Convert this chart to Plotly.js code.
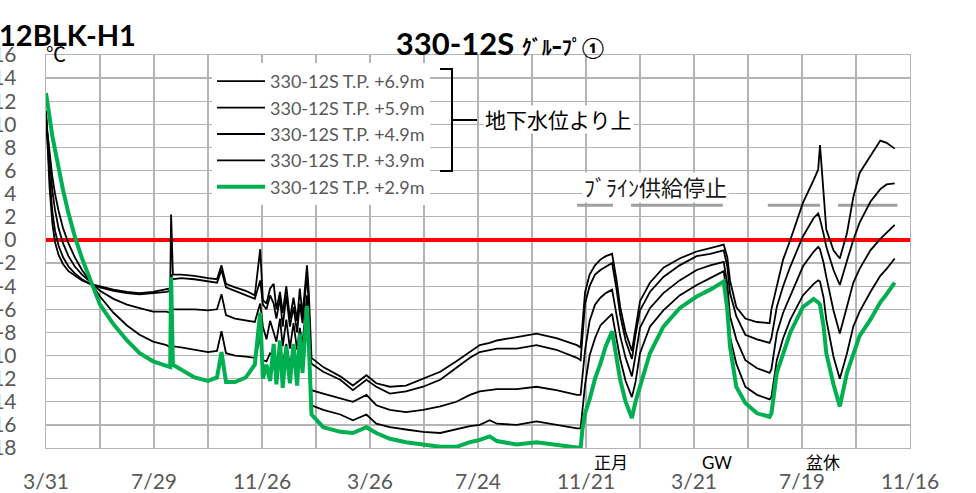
<!DOCTYPE html>
<html><head><meta charset="utf-8">
<script src="https://cdn.plot.ly/plotly-3.0.1.min.js"></script>
<style>html,body{margin:0;padding:0;background:#fff}#chart{width:976px;height:493px}</style>
</head><body><div id="chart"></div>
<script>
// ---------- DATA ----------
const startDate = '2017-03-31';
const endDate = '2019-11-16';
// days after startDate at which values were read
const dayOffsets = [
  0, 2, 4, 7, 10, 14, 19, 25, 32, 40,
  49, 60, 75, 90, 104, 119, 134, 138, 139, 141,
  150, 165, 180, 190, 195, 200, 210, 222, 232, 238,
  241, 245, 249, 253, 256, 260, 263, 267, 271, 275,
  279, 282, 285, 290, 292, 294, 295, 308, 327, 341,
  356, 367, 382, 400, 419, 438, 456, 471, 482, 493,
  501, 523, 545, 567, 590, 594, 596, 599, 604, 610,
  616, 622, 629, 634, 638, 644, 651, 655, 660, 671,
  686, 704, 723, 738, 753, 757, 760, 767, 777, 790,
  804, 806, 812, 819, 827, 841, 853, 858, 860, 864,
  867, 875, 882, 890, 897, 904, 916, 927, 934, 943
];
const seriesNames = ['330-12S T.P. +6.9m', '330-12S T.P. +5.9m', '330-12S T.P. +4.9m', '330-12S T.P. +3.9m', '330-12S T.P. +2.9m'];
const tp69 = [
  11.2, 7.5, 4.5, 1.5, -0.2, -1.3, -2.1, -2.7, -3.1, -3.5,
  -3.8, -4.0, -4.3, -4.5, -4.6, -4.5, -4.3, -4.2, 2.2, -3.0,
  -3.0, -3.1, -3.3, -3.4, -2.2, -3.8, -4.1, -4.4, -4.8, -0.8,
  -5.2, -5.5, -4.2, -3.8, -6.0, -4.5, -6.3, -4.0, -6.8, -5.0,
  -7.0, -4.2, -6.5, -2.2, -4.5, -9.5, -10.2, -11.0, -11.8, -12.6,
  -11.7, -12.4, -12.7, -12.6, -12.0, -11.4, -10.5, -9.7, -9.1, -8.9,
  -8.7, -8.4, -8.1, -8.5, -9.1, -9.3, -7.0, -4.5, -3.0, -2.2,
  -1.7, -1.4, -1.2, -3.5, -5.8, -8.0, -9.6, -7.5, -5.3, -3.7,
  -2.4, -1.6, -1.0, -0.7, -0.4, -1.5, -3.5, -5.8, -6.8, -7.1,
  -7.2, -6.0, -4.0, -1.7, 0.0, 3.2, 5.2, 6.1, 8.2, 3.5,
  0.9, -0.9, -1.6, 0.6, 3.7, 5.8, 7.2, 8.6, 8.4, 7.9
];
const tp59 = [
  11.0, 8.0, 5.5, 2.5, 0.8, -0.5, -1.5, -2.3, -2.9, -3.4,
  -3.8, -4.1, -4.4, -4.6, -4.7, -4.6, -4.5, -4.4, -3.0, -3.4,
  -3.3, -3.4, -3.6, -3.7, -2.6, -4.1, -4.4, -4.8, -5.1, -3.5,
  -5.6, -6.0, -4.8, -5.5, -6.8, -5.0, -7.5, -4.8, -7.5, -5.8,
  -8.0, -5.5, -7.2, -3.0, -5.5, -10.2, -10.7, -11.4, -12.1, -13.0,
  -12.1, -12.7, -13.3, -13.1, -12.7, -12.1, -11.1, -10.2, -9.7, -9.5,
  -9.4, -9.4, -9.1, -9.5, -10.2, -10.4, -8.5, -5.5, -4.0, -3.0,
  -2.6, -2.3, -2.0, -4.3, -6.5, -8.7, -10.3, -8.2, -6.1, -4.5,
  -3.2, -2.2, -1.4, -1.2, -0.9, -2.3, -4.6, -6.6, -8.2, -8.6,
  -8.9, -8.5, -5.8, -4.0, -2.3, 0.3, 1.9, 2.3, 1.8, 0.5,
  -0.6, -2.6, -3.9, -1.8, 0.0, 1.5, 3.3, 4.4, 4.8, 4.9
];
const tp49 = [
  10.7, 8.8, 6.8, 4.3, 2.6, 1.0, -0.3, -1.4, -2.3, -3.0,
  -3.6, -4.4, -5.1, -5.6, -5.9, -6.2, -6.2, -6.3, -5.8, -6.0,
  -6.0, -6.0, -6.1, -6.0, -4.7, -6.5, -6.8, -7.0, -7.1, -5.5,
  -7.5, -8.6, -7.0, -8.0, -8.8, -6.8, -9.2, -6.9, -9.4, -7.2,
  -9.5, -7.6, -9.0, -4.8, -7.5, -12.5, -13.0, -13.3, -13.7, -14.0,
  -13.4, -14.3, -14.7, -14.9, -14.7, -14.4, -14.0, -13.4, -13.1, -13.0,
  -12.9, -12.9, -12.7, -13.0, -13.4, -13.4, -12.0, -9.5, -7.0, -5.6,
  -5.0, -4.6, -4.3, -6.5, -8.3, -10.2, -11.8, -10.0, -7.6, -5.9,
  -4.6, -3.5, -2.6, -2.2, -1.9, -3.8, -6.6, -8.6, -10.4, -11.1,
  -11.5, -11.2, -8.1, -6.3, -4.9, -2.3, -1.0, -0.6, -0.8, -2.0,
  -3.2, -6.1, -8.1, -5.8, -3.7, -2.5, -0.9, 0.1, 0.6, 1.3
];
const tp39 = [
  10.4, 9.0, 7.5, 5.5, 4.0, 2.5, 1.0, -0.3, -1.5, -2.6,
  -3.6, -4.9, -6.3, -7.4, -8.2, -8.8, -9.1, -9.3, -9.0, -9.2,
  -9.3, -9.5, -9.7, -9.6, -7.9, -9.8, -10.0, -10.1, -10.2, -8.5,
  -10.4, -10.5, -9.8, -10.0, -10.6, -9.2, -10.8, -9.0, -10.9, -9.3,
  -10.8, -9.0, -10.3, -6.3, -9.0, -14.0, -14.3, -14.7, -15.1, -15.6,
  -15.1, -15.9, -16.2, -16.4, -16.6, -16.7, -16.4, -16.1, -16.0, -15.6,
  -15.9, -16.0, -15.7, -16.0, -16.3, -16.3, -14.5, -12.5, -10.0, -8.5,
  -7.4, -6.9, -6.4, -8.6, -10.3, -12.2, -13.6, -12.3, -9.8, -7.5,
  -6.1, -4.8, -3.9, -3.3, -2.7, -5.0, -8.4, -10.7, -12.7, -13.4,
  -13.8, -13.6, -10.4, -8.5, -6.9, -4.8, -3.8, -3.5, -3.6, -5.0,
  -6.9, -10.1, -12.0, -9.8, -7.5, -6.2, -4.5, -3.1, -2.5, -1.6
];
const tp29 = [
  12.7, 11.8, 10.6, 9.0, 7.8, 6.3, 4.3, 2.3, 0.3, -1.6,
  -3.4, -5.6, -7.3, -8.7, -9.8, -10.5, -10.9, -11.0, -3.2, -10.8,
  -11.2, -11.9, -12.2, -11.9, -9.7, -12.3, -12.3, -11.9, -10.8, -6.3,
  -12.0, -10.8, -12.2, -9.0, -12.5, -8.7, -12.8, -9.2, -12.4, -9.0,
  -12.6, -8.1, -11.5, -5.7, -9.0, -14.8, -15.1, -16.2, -16.6, -16.7,
  -16.2, -16.7, -17.2, -17.5, -17.7, -17.9, -17.9, -17.5, -17.3, -17.0,
  -17.4, -17.7, -17.5, -17.7, -17.9, -18.0, -16.4, -15.0, -13.8, -12.0,
  -10.7, -9.2, -7.9, -10.2, -12.1, -14.0, -15.4, -14.0, -12.7, -9.8,
  -7.5, -5.9, -4.9, -4.3, -3.6, -6.0, -9.2, -12.7, -14.1, -15.0,
  -15.3, -15.0, -11.5, -9.8, -8.0, -5.8, -5.1, -5.4, -5.6, -7.5,
  -9.8, -12.5, -14.4, -11.5, -9.8, -8.3, -6.9, -5.4, -4.7, -3.7
];
// brine supply stop periods (day offsets) drawn as grey bars
const brineStopStart = [590, 650, 802, 880];
const brineStopEnd = [630, 752, 860, 946];
const brineStopLevel = 3;
const freezingLevel = 0;
const yTickVals = [16, 14, 12, 10, 8, 6, 4, 2, 0, -2, -4, -6, -8, -10, -12, -14, -16, -18];
const yTickText = ['16', '14', '12', '10', '8', '6', '4', '2', '0', '-2', '-4', '-6', '-8', '-10', '-12', '-14', '-16', '-18'];

// ---------- BUILD ----------
const DAY = 86400000;
const t0 = Date.parse(startDate + 'T00:00:00Z');
const toDate = d => new Date(t0 + d * DAY).toISOString().slice(0, 10);
const xDates = dayOffsets.map(toDate);

const bx = [], by = [];
brineStopStart.forEach((s, i) => {
  bx.push(toDate(s), toDate(brineStopEnd[i]), null);
  by.push(brineStopLevel, brineStopLevel, null);
});

const seriesVals = [tp69, tp59, tp49, tp39, tp29];
const traces = [
  {x: [startDate, endDate], y: [freezingLevel, freezingLevel], mode: 'lines',
   line: {color: '#ff0000', width: 4}, showlegend: false, hoverinfo: 'skip'},
  {x: bx, y: by, mode: 'lines', line: {color: '#a0a0a0', width: 3},
   showlegend: false, hoverinfo: 'skip', connectgaps: false}
];
seriesVals.forEach((vals, i) => {
  const green = i === 4;
  traces.push({
    x: xDates, y: vals, name: seriesNames[i], mode: 'lines',
    line: {color: green ? '#00b050' : '#000000', width: green ? 4 : 1.8}
  });
});

const L = 46, R = 910, T = 55, B = 448;
const px = x => (x - L) / (R - L);
const py = y => (B - y) / (B - T);
const P = (x, y) => px(x).toFixed(4) + ',' + py(y).toFixed(4);
const grid = '#b4b4b4';
const cjk = 'Lato, "Noto Sans CJK JP", sans-serif';

const layout = {
  width: 976, height: 493,
  margin: {l: L, r: 976 - R, t: T, b: 493 - B},
  paper_bgcolor: '#ffffff', plot_bgcolor: '#ffffff',
  font: {family: cjk, color: '#595959'},
  title: {
    text: '<b>330-12S <span style="font-size:20px">ｸﾞﾙｰﾌﾟ①</span></b>',
    font: {size: 31, color: '#000000', family: cjk},
    x: 500 / 976, xanchor: 'center', xref: 'container',
    y: 1 - 44 / 493, yanchor: 'middle', yref: 'container'
  },
  showlegend: true,
  legend: {
    x: px(212), xanchor: 'left', y: py(63), yanchor: 'top',
    bgcolor: '#ffffff', borderwidth: 0,
    font: {size: 18, color: '#595959', family: cjk},
    itemwidth: 48, traceorder: 'normal'
  },
  xaxis: {
    type: 'date', range: [startDate, endDate],
    tick0: startDate, dtick: 120 * DAY, tickformat: '%-m/%-d',
    showgrid: true, gridcolor: grid, gridwidth: 1.3,
    minor: {tick0: startDate, dtick: 60 * DAY, showgrid: true, gridcolor: grid, gridwidth: 1.3},
    ticks: '', ticklabelstandoff: 14,
    tickfont: {size: 21, color: '#595959', family: cjk},
    showline: true, linecolor: grid, linewidth: 1.3, mirror: true,
    zeroline: false, fixedrange: true
  },
  yaxis: {
    range: [-18, 16], tickmode: 'array', tickvals: yTickVals, ticktext: yTickText,
    showgrid: true, gridcolor: grid, gridwidth: 1.3,
    ticks: '', ticklabelstandoff: 24,
    tickfont: {size: 21, color: '#595959', family: cjk},
    showline: true, linecolor: grid, linewidth: 1.3, mirror: true,
    zeroline: false, fixedrange: true
  },
  shapes: [
    {type: 'path', xref: 'paper', yref: 'paper',
     path: 'M' + P(440, 69) + ' L' + P(452, 69) + ' L' + P(452, 171) + ' L' + P(440, 171),
     line: {color: '#000000', width: 2}},
    {type: 'line', xref: 'paper', yref: 'paper',
     x0: px(452), x1: px(477), y0: py(120), y1: py(120),
     line: {color: '#000000', width: 2}}
  ],
  annotations: [
    {text: '<b>12BLK-H1</b>', xref: 'paper', yref: 'paper', x: px(-3), y: py(34),
     xanchor: 'left', yanchor: 'middle', showarrow: false,
     font: {size: 29, color: '#000000', family: cjk}},
    {text: '℃', xref: 'paper', yref: 'paper', x: px(56), y: py(54),
     xanchor: 'center', yanchor: 'middle', showarrow: false,
     font: {size: 20, color: '#000000', family: cjk}},
    {text: '地下水位より上', xref: 'paper', yref: 'paper', x: px(558), y: py(120),
     xanchor: 'center', yanchor: 'middle', showarrow: false, bgcolor: '#ffffff',
     font: {size: 21, color: '#000000', family: cjk}},
    {text: 'ﾌﾞﾗｲﾝ供給停止', xref: 'paper', yref: 'paper', x: px(655), y: py(187),
     xanchor: 'center', yanchor: 'middle', showarrow: false, bgcolor: '#ffffff',
     font: {size: 22, color: '#1a1a1a', family: cjk}},
    {text: '正月', xref: 'paper', yref: 'paper', x: px(611), y: py(462),
     xanchor: 'center', yanchor: 'middle', showarrow: false,
     font: {size: 17, color: '#000000', family: cjk}},
    {text: 'GW', xref: 'paper', yref: 'paper', x: px(717), y: py(462),
     xanchor: 'center', yanchor: 'middle', showarrow: false,
     font: {size: 17, color: '#000000', family: cjk}},
    {text: '盆休', xref: 'paper', yref: 'paper', x: px(823), y: py(462),
     xanchor: 'center', yanchor: 'middle', showarrow: false,
     font: {size: 17, color: '#000000', family: cjk}}
  ]
};

Plotly.newPlot('chart', traces, layout, {displayModeBar: false, staticPlot: true});
</script>
</body></html>
